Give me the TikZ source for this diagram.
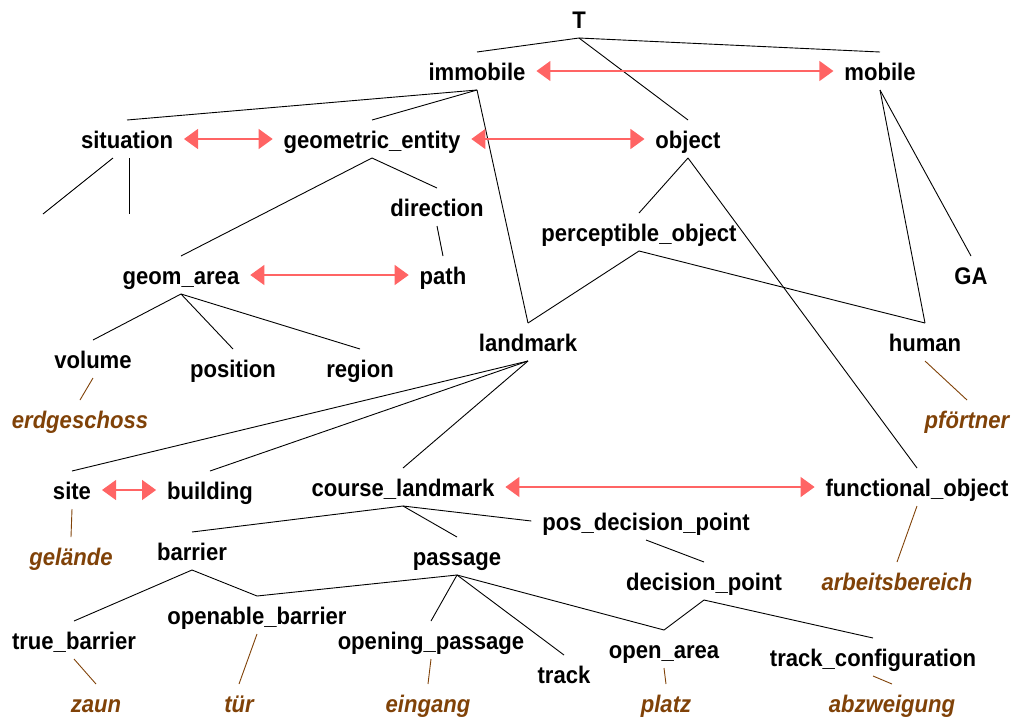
\documentclass[tikz,border=0pt]{standalone}
\usepackage{fontspec}
\setmainfont{Liberation Sans}
% condensed bold face, keeping the advance widths of the regular face
\newfontfamily\labelfont{Liberation Sans Bold}[FakeStretch=0.92, ItalicFont={Liberation Sans Bold Italic}]
\usetikzlibrary{arrows.meta}
\definecolor{relred}{RGB}{255,100,100}
\definecolor{instbrown}{RGB}{128,66,8}
\begin{document}
\begin{tikzpicture}[x=1pt,y=-1pt,
  concept/.style={inner sep=0pt, outer sep=0pt, text height=28pt, text depth=10pt,
    anchor=base, font=\labelfont\fontsize{24}{28}\selectfont},
  inst/.style={concept, text=instbrown, font=\labelfont\fontsize{24}{28}\selectfont\itshape},
  isa/.style={draw=black, line width=0.9pt},
  instof/.style={draw=instbrown, line width=0.9pt},
  rel/.style={draw=relred, line width=1.2pt,
    {Triangle[length=14pt,width=20pt]}-{Triangle[length=14pt,width=20pt]},
    shorten <=11pt, shorten >=11pt}]
\useasboundingbox (0,0) rectangle (1015,716);

% concepts
\node[concept] (T) at (579,28) {T};
\node[concept] (immobile) at (477,80) {immobile};
\node[concept] (mobile) at (880,80) {mobile};
\node[concept] (situation) at (127,148) {situation};
\node[concept] (geometric) at (372,148) {geometric\_entity};
\node[concept] (object) at (688,148) {object};
\node[concept] (direction) at (437,216) {direction};
\node[concept] (perceptible) at (639,241) {perceptible\_object};
\node[concept] (geomarea) at (181,284) {geom\_area};
\node[concept] (path) at (443,284) {path};
\node[concept] (GA) at (971,284) {GA};
\node[concept] (volume) at (93,368) {volume};
\node[concept] (position) at (233,377) {position};
\node[concept] (region) at (360,377) {region};
\node[concept] (landmark) at (528,351) {landmark};
\node[concept] (human) at (925,351) {human};
\node[concept] (site) at (72,499) {site};
\node[concept] (building) at (210,499) {building};
\node[concept] (courselm) at (403,496) {course\_landmark};
\node[concept] (functional) at (917,496) {functional\_object};
\node[concept] (pdp) at (646,530) {pos\_decision\_point};
\node[concept] (barrier) at (192,560) {barrier};
\node[concept] (passage) at (457,565) {passage};
\node[concept] (decisionpt) at (704,590) {decision\_point};
\node[concept] (openable) at (257,624) {openable\_barrier};
\node[concept] (truebarrier) at (74,649) {true\_barrier};
\node[concept] (openingp) at (431,649) {opening\_passage};
\node[concept] (track) at (564,683) {track};
\node[concept] (openarea) at (664,658) {open\_area};
\node[concept] (trackconf) at (873,666) {track\_configuration};

% instances
\node[inst] (erdgeschoss) at (80,428) {erdgeschoss};
\node[inst] (pfoertner) at (967,428) {pförtner};
\node[inst] (gelaende) at (71,565) {gelände};
\node[inst] (arbeitsbereich) at (897,590) {arbeitsbereich};
\node[inst] (zaun) at (96,712) {zaun};
\node[inst] (tuer) at (239,712) {tür};
\node[inst] (eingang) at (428,712) {eingang};
\node[inst] (platz) at (666,712) {platz};
\node[inst] (abzweigung) at (892,712) {abzweigung};

% open ends below situation
\coordinate (sitL) at (43,214);
\coordinate (sitM) at (129,214);

% is-a links
\draw[isa] (T.south) -- (immobile.north);
\draw[isa] (T.south) -- (mobile.north);
\draw[isa] (T.south) -- (object.north);
\draw[isa] (immobile.south) -- (situation.north);
\draw[isa] (immobile.south) -- (geometric.north);
\draw[isa] (immobile.south) -- (landmark.north);
\draw[isa] (mobile.south) -- (human.north);
\draw[isa] (mobile.south) -- (GA.north);
\draw[isa] (object.south) -- (perceptible.north);
\draw[isa] (object.south) -- (functional.north);
\draw[isa] (perceptible.south) -- (landmark.north);
\draw[isa] (perceptible.south) -- (human.north);
\draw[isa] ([xshift=-14pt]situation.south) -- (sitL);
\draw[isa] ([xshift=2pt]situation.south) -- (sitM);
\draw[isa] (geometric.south) -- (geomarea.north);
\draw[isa] (geometric.south) -- (direction.north);
\draw[isa] (direction.south) -- (path.north);
\draw[isa] (geomarea.south) -- (volume.north);
\draw[isa] (geomarea.south) -- (position.north);
\draw[isa] (geomarea.south) -- (region.north);
\draw[isa] (landmark.south) -- (site.north);
\draw[isa] (landmark.south) -- (building.north);
\draw[isa] (landmark.south) -- (courselm.north);
\draw[isa] (courselm.south) -- (barrier.north);
\draw[isa] (courselm.south) -- (passage.north);
\draw[isa] (courselm.south) -- ([xshift=-11pt]pdp.west);
\draw[isa] (pdp.south) -- (decisionpt.north);
\draw[isa] (barrier.south) -- (truebarrier.north);
\draw[isa] (barrier.south) -- (openable.north);
\draw[isa] (passage.south) -- (openable.north);
\draw[isa] (passage.south) -- (openingp.north);
\draw[isa] (passage.south) -- (track.north);
\draw[isa] (passage.south) -- (openarea.north);
\draw[isa] (decisionpt.south) -- (openarea.north);
\draw[isa] (decisionpt.south) -- (trackconf.north);

% instance links
\draw[instof] (volume.south) -- (erdgeschoss.north);
\draw[instof] (human.south) -- (pfoertner.north);
\draw[instof] (site.south) -- (gelaende.north);
\draw[instof] (functional.south) -- (arbeitsbereich.north);
\draw[instof] (truebarrier.south) -- (zaun.north);
\draw[instof] (openable.south) -- (tuer.north);
\draw[instof] (openingp.south) -- (eingang.north);
\draw[instof] (openarea.south) -- (platz.north);
\draw[instof] (trackconf.south) -- (abzweigung.north);

% sibling relations
\draw[rel] (immobile.east) -- (mobile.west);
\draw[rel] (situation.east) -- (geometric.west);
\draw[rel] (geometric.east) -- (object.west);
\draw[rel] (geomarea.east) -- (path.west);
\draw[rel] (site.east) -- (building.west);
\draw[rel] (courselm.east) -- (functional.west);
\end{tikzpicture}
\end{document}
